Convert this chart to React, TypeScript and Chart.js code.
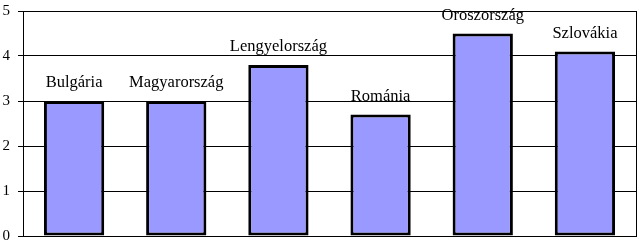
import React, { useEffect, useRef } from "react";
import { Chart, registerables } from "chart.js";

Chart.register(...registerables);

const categories = ["Bulgária", "Magyarország", "Lengyelország", "Románia", "Oroszország", "Szlovákia"];
const values = [3, 3, 3.8, 2.7, 4.5, 4.1];
const yMin = 0;
const yMax = 5;
const yStep = 1;

const SERIF = "'Liberation Serif', 'Times New Roman', serif";

const labelPlugin = {
  id: "barLabels",
  afterDatasetsDraw(chart: any) {
    const ctx = chart.ctx;
    const meta = chart.getDatasetMeta(0);
    ctx.save();
    ctx.font = `16.5px ${SERIF}`;
    ctx.fillStyle = "#000";
    ctx.textAlign = "center";
    ctx.textBaseline = "alphabetic";
    meta.data.forEach((bar: any, i: number) => {
      ctx.fillText(categories[i], bar.x, bar.y - 14);
    });
    ctx.restore();
  },
};

const framePlugin = {
  id: "frame",
  afterDraw(chart: any) {
    const { ctx, chartArea } = chart;
    ctx.save();
    ctx.strokeStyle = "#000";
    ctx.lineWidth = 1;
    ctx.beginPath();
    ctx.moveTo(Math.round(chartArea.right) + 0.5, chartArea.top);
    ctx.lineTo(Math.round(chartArea.right) + 0.5, chartArea.bottom + 1);
    ctx.stroke();
    ctx.restore();
  },
};

export default function App() {
  const ref = useRef<HTMLCanvasElement>(null);
  useEffect(() => {
    document.body.style.margin = "0";
    const chart = new Chart(ref.current!, {
      type: "bar",
      data: {
        labels: categories,
        datasets: [
          {
            data: values,
            backgroundColor: "#9999ff",
            borderColor: "#000",
            borderWidth: 3,
            borderSkipped: false,
            barPercentage: 0.59,
            categoryPercentage: 1,
          },
        ],
      },
      options: {
        animation: false,
        responsive: false,
        maintainAspectRatio: false,
        layout: { padding: { top: 11, right: 4, bottom: 7, left: 0 } },
        plugins: { legend: { display: false }, tooltip: { enabled: false } },
        scales: {
          x: { display: false },
          y: {
            min: yMin,
            max: yMax,
            ticks: {
              stepSize: yStep,
              color: "#000",
              font: { family: SERIF, size: 15 },
              padding: 8,
            },
            grid: { color: "#000", lineWidth: 1, tickLength: 5 },
            border: { display: true, color: "#000" },
            afterFit(scale: any) {
              scale.width = 23;
              scale.paddingTop = 0;
              scale.paddingBottom = 0;
            },
          },
        },
      },
      plugins: [labelPlugin, framePlugin],
    });
    return () => chart.destroy();
  }, []);
  return (
    <div style={{ position: "absolute", left: 0, top: 0, width: 640, height: 243, background: "#fff" }}>
      <canvas ref={ref} width={640} height={243} style={{ width: 640, height: 243 }} />
    </div>
  );
}
